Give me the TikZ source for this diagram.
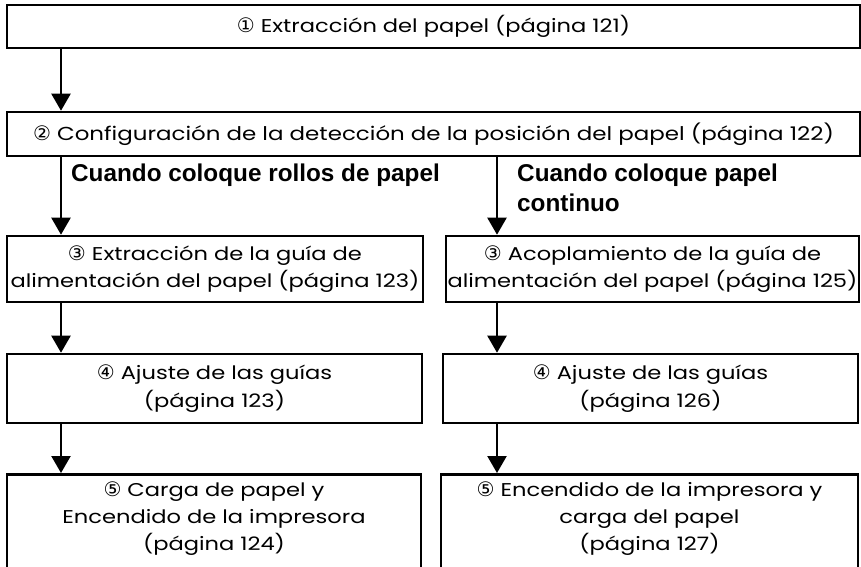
\documentclass[tikz,border=0pt]{standalone}
\usepackage{fontspec}
\setmainfont{Poppins}[FakeStretch=1.22]
\newfontfamily\symfont{DejaVu Sans}
\newfontfamily\labfont{Liberation Sans}
\usetikzlibrary{arrows.meta}
\newcommand\cnum[1]{{\symfont\fontsize{20}{20}\selectfont #1}}
\begin{document}
\begin{tikzpicture}[x=1pt,y=-1pt,
  box/.style={draw, line width=2.6pt, inner sep=0pt, align=center,
    font=\fontsize{18.5}{27.5}\selectfont},
  txt/.style={inner sep=0pt, align=center, font=\fontsize{18.5}{27}\selectfont},
  lab/.style={inner sep=0pt, align=left, font=\labfont\bfseries\fontsize{24.3}{30}\selectfont},
  arr/.style={line width=2.3pt, -{Triangle[width=19pt,length=17pt]}}]
\useasboundingbox (0,0) rectangle (861,566);
\clip (0,0) rectangle (861,566);
\coordinate (xl) at (61,0);
\coordinate (xr) at (497,0);
\node[box, minimum width=853pt, minimum height=43pt] (b1) at (433.5,26.5)
  {\cnum{①} Extracción del papel (página 121)};
\node[box, minimum width=853pt, minimum height=44pt, font=\fontsize{18.8}{27.5}\selectfont] (b2) at (433.5,134)
  {\cnum{②} Configuración de la detección de la posición del papel (página 122)};
\node[box, minimum width=416pt, minimum height=66pt] (b3l) at (215,269)
  {\cnum{③} Extracción de la guía de\\alimentación del papel (página 123)};
\node[box, minimum width=413pt, minimum height=66pt] (b3r) at (652.5,269)
  {\cnum{③} Acoplamiento de la guía de\\alimentación del papel (página 125)};
\node[box, minimum width=415pt, minimum height=69pt] (b4l) at (214.5,388.5)
  {\cnum{④} Ajuste de las guías\\(página 123)};
\node[box, minimum width=415pt, minimum height=69pt] (b4r) at (650.5,388.5)
  {\cnum{④} Ajuste de las guías\\(página 126)};
\node[box, minimum width=414pt, minimum height=130pt, anchor=north] (b5l) at (214,473) {};
\node[box, minimum width=417pt, minimum height=130pt, anchor=north] (b5r) at (649.5,473) {};
\node[txt] (t5l) at (214,519)
  {\cnum{⑤} Carga de papel y\\Encendido de la impresora\\(página 124)};
\node[txt] (t5r) at (649.5,519)
  {\cnum{⑤} Encendido de la impresora y\\carga del papel\\(página 127)};
\node[lab, anchor=base west] (l1) at (71,181) {Cuando coloque rollos de papel};
\node[lab, anchor=base west] (l2) at (517,211) {Cuando coloque papel\\continuo};
\draw[arr] (b1.south -| xl) -- (b2.north -| xl);
\draw[arr] (b2.south -| xl) -- (b3l.north -| xl);
\draw[arr] (b2.south -| xr) -- (b3r.north -| xr);
\draw[arr] (b3l.south -| xl) -- (b4l.north -| xl);
\draw[arr] (b3r.south -| xr) -- (b4r.north -| xr);
\draw[arr] (b4l.south -| xl) -- (b5l.north -| xl);
\draw[arr] (b4r.south -| xr) -- (b5r.north -| xr);
\end{tikzpicture}
\end{document}
